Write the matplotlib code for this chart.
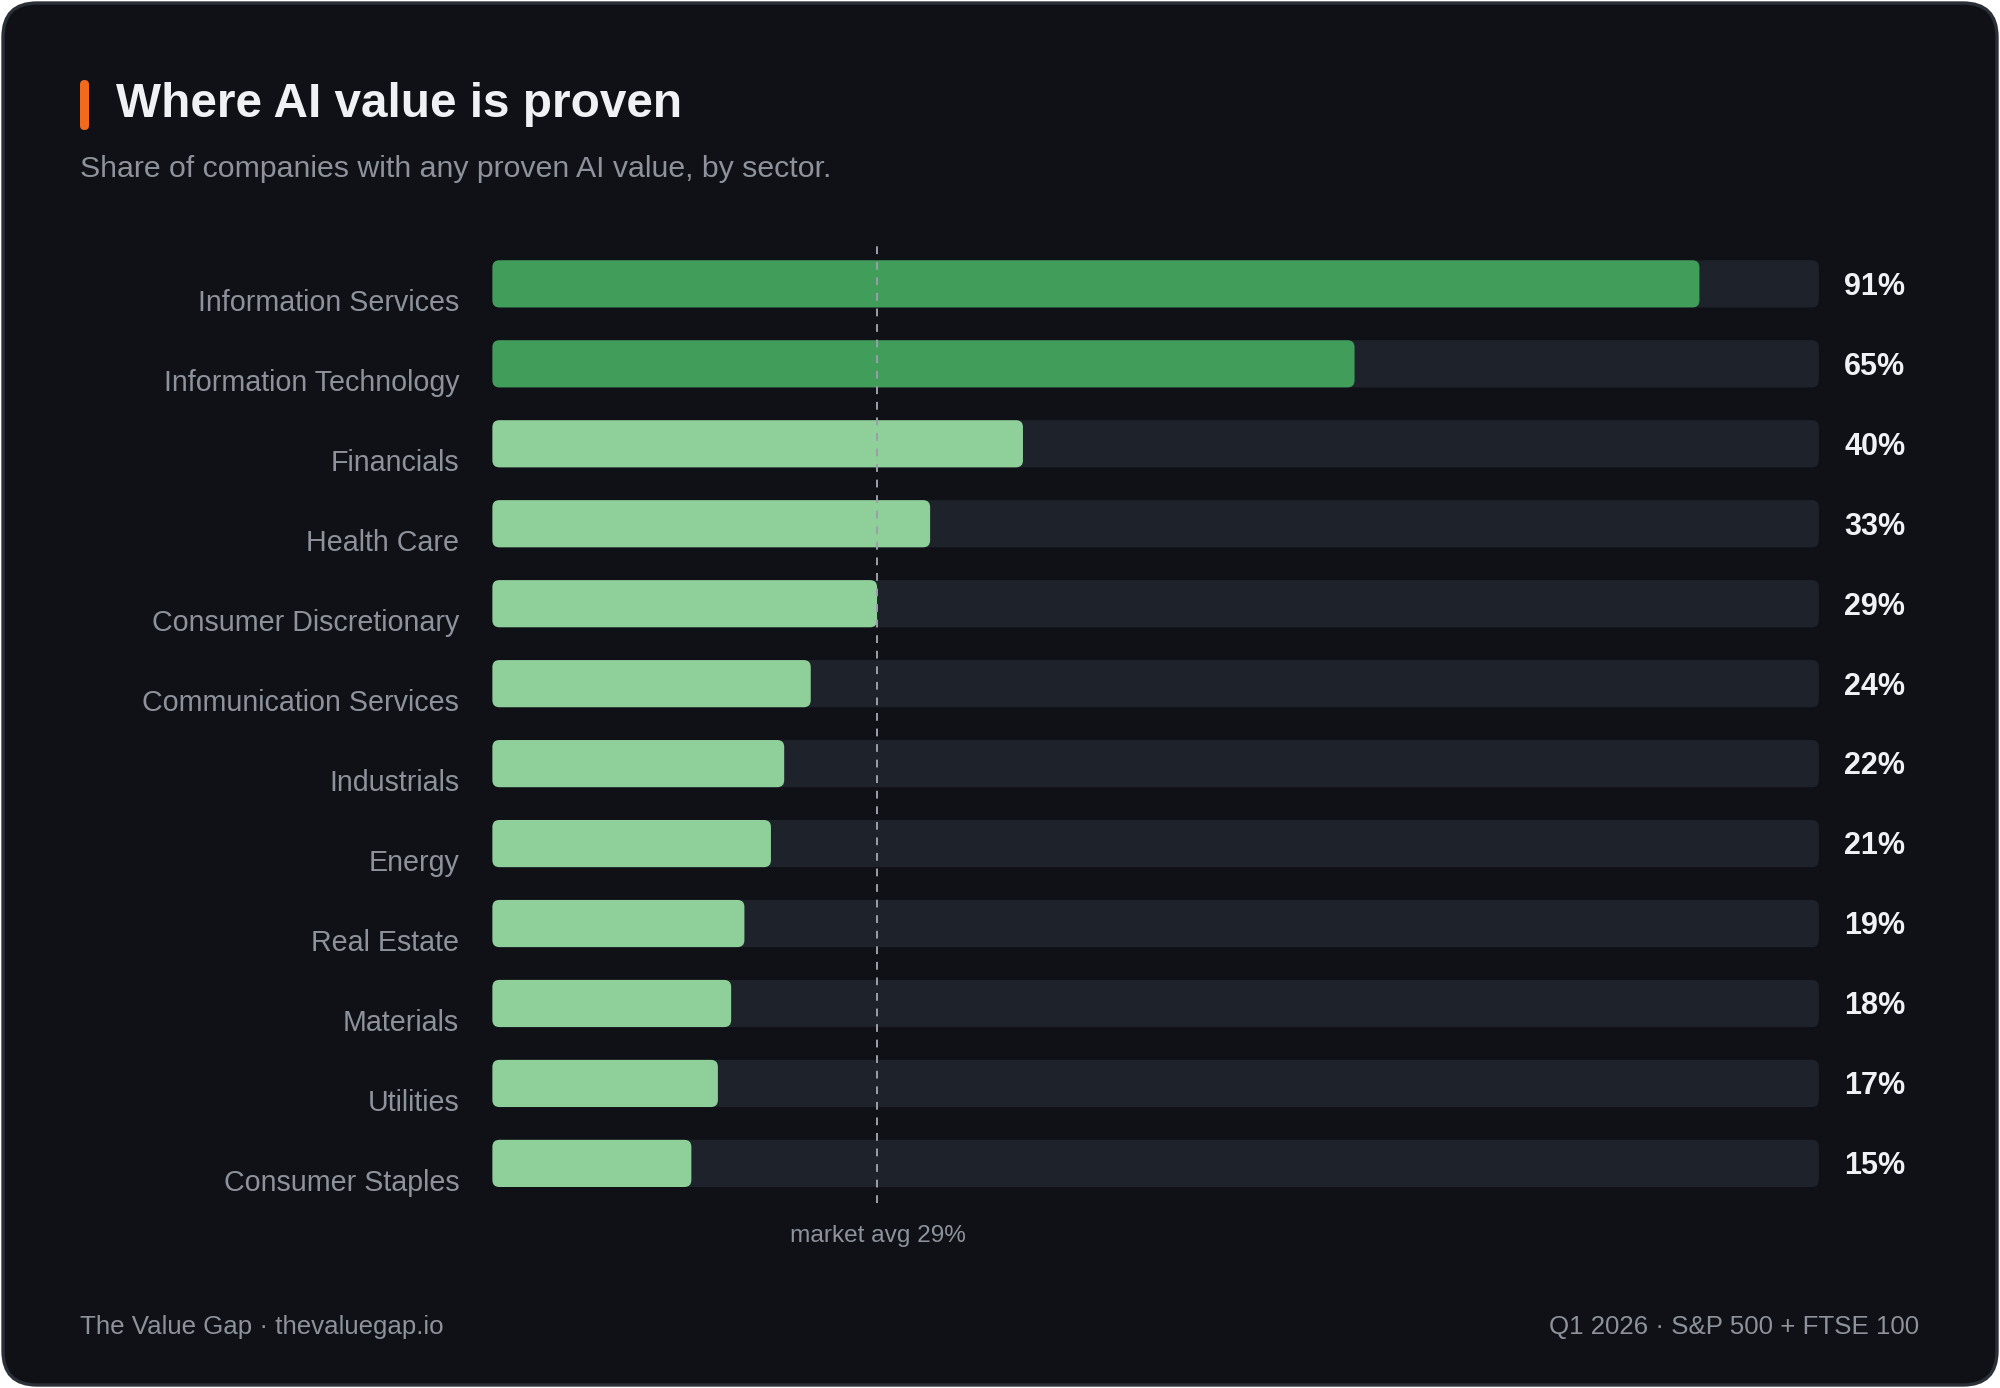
import matplotlib.pyplot as plt
from matplotlib.patches import FancyBboxPatch

# data
sectors = ["Information Services", "Information Technology", "Financials", "Health Care",
           "Consumer Discretionary", "Communication Services", "Industrials", "Energy",
           "Real Estate", "Materials", "Utilities", "Consumer Staples"]
share = [91, 65, 40, 33, 29, 24, 22, 21, 19, 18, 17, 15]
market_avg = 29

BG = "#0f1116"
TRACK = "#1e232b"
DARK_GREEN = "#409d5a"
LIGHT_GREEN = "#8fcf9a"
TEXT = "#f0f1f4"
MUTED = "#8d929b"
ORANGE = "#f26a1c"

plt.rcParams['font.family'] = ['Liberation Sans', 'DejaVu Sans']

W, H = 2000, 1388
fig = plt.figure(figsize=(W / 200, H / 200), dpi=200)
fig.patch.set_facecolor("white")

# card background with rounded corners (pixel coords)
bg = fig.add_axes([0, 0, 1, 1])
bg.set_xlim(0, W)
bg.set_ylim(0, H)
bg.axis("off")
bg.add_patch(FancyBboxPatch((3, 3), W - 6, H - 6, boxstyle="round,pad=0,rounding_size=34",
                            fc=BG, ec="#2b2f37", lw=1.2))
# orange accent next to title
bg.add_patch(FancyBboxPatch((80, H - 130), 9, 50, boxstyle="round,pad=0,rounding_size=4.5",
                            fc=ORANGE, ec="none"))

fig.text(0.058, 1 - 0.0755, "Where AI value is proven", color=TEXT, fontsize=17.2,
         fontweight="bold", va="center", ha="left")
fig.text(0.0402, 1 - 0.122, "Share of companies with any proven AI value, by sector.",
         color=MUTED, fontsize=10.9, va="center", ha="left")

# bar chart
ax = fig.add_axes([0.2462, 0.133, 0.9094 - 0.2462, 0.8243 - 0.133])
ax.set_facecolor("none")
ax.set_xlim(0, 100)
n = len(sectors)
ax.set_ylim(n - 0.5, -0.5)
ax.axis("off")

bar_h = 0.59
px_x = (0.9094 - 0.2462) * W / 100      # pixels per x unit
px_y = (0.8243 - 0.133) * H / n          # pixels per row
r = 7 / px_x
asp = px_x / px_y

for i, (name, v) in enumerate(zip(sectors, share)):
    ax.add_patch(FancyBboxPatch((0, i - bar_h / 2), 100, bar_h,
                                boxstyle=f"round,pad=0,rounding_size={r}",
                                mutation_aspect=asp, fc=TRACK, ec="none", zorder=1))
    col = DARK_GREEN if v >= 50 else LIGHT_GREEN
    ax.add_patch(FancyBboxPatch((0, i - bar_h / 2), v, bar_h,
                                boxstyle=f"round,pad=0,rounding_size={r}",
                                mutation_aspect=asp, fc=col, ec="none", zorder=2))
    ax.text(-2.5, i + 0.34, name, color=MUTED, fontsize=10.3, ha="right", va="baseline",
            clip_on=False)
    ax.text(101.9, i + 0.136, f"{v}%", color=TEXT, fontsize=11, fontweight="bold",
            ha="left", va="baseline", clip_on=False)

ax.axvline(market_avg, ymin=0.0, ymax=1.005, color="#9a9fa8", lw=0.7,
           ls=(0, (4, 4)), zorder=3)
fig.text(0.4388, 1 - 0.8906, f"market avg {market_avg}%", color=MUTED, fontsize=8.8,
         ha="center", va="center")

# footer
fig.text(0.0402, 1 - 0.9559, "The Value Gap \u00b7 thevaluegap.io", color=MUTED,
         fontsize=9.3, ha="left", va="center")
fig.text(0.9598, 1 - 0.9559, "Q1 2026 \u00b7 S&P 500 + FTSE 100", color=MUTED,
         fontsize=9.3, ha="right", va="center")

fig.savefig("out.png", dpi=200, facecolor=fig.get_facecolor())
